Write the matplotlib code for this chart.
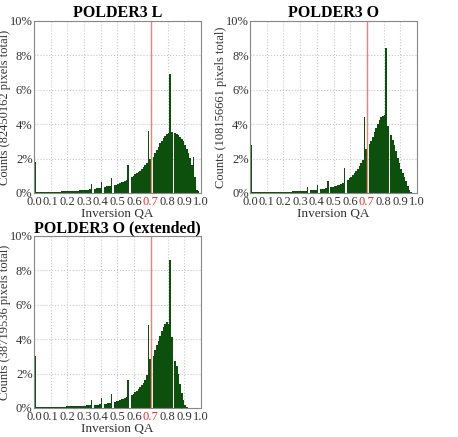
import numpy as np
import matplotlib.pyplot as plt
from matplotlib.ticker import FuncFormatter

plt.rcParams['font.family'] = ['Liberation Serif', 'DejaVu Serif']

# bin left edges, width 0.01
edges = np.arange(100) / 100.0

titles = ['POLDER3 L', 'POLDER3 O', 'POLDER3 O (extended)']
totals = ['82450162', '108156661', '38719536']

# percent of pixels per bin
pct_L = [1.80, 0.05, 0.05, 0.05, 0.05, 0.05, 0.06, 0.06, 0.06, 0.06,
         0.07, 0.07, 0.07, 0.08, 0.08, 0.08, 0.09, 0.09, 0.10, 0.10,
         0.11, 0.11, 0.12, 0.12, 0.13, 0.13, 0.14, 0.15, 0.15, 0.16,
         0.17, 0.18, 0.19, 0.21, 0.50, 0.00, 0.25, 0.27, 0.29, 0.31,
         0.66, 0.00, 0.36, 0.38, 0.40, 0.43, 0.85, 0.00, 0.46, 0.49,
         0.52, 0.56, 0.61, 0.66, 0.71, 0.77, 1.60, 0.00, 0.92, 1.00,
         1.08, 1.15, 1.22, 1.30, 1.40, 1.50, 1.62, 1.75, 3.60, 1.95,
         0.00, 2.10, 2.30, 2.50, 2.70, 2.88, 3.05, 3.20, 3.32, 3.42,
         3.48, 6.90, 3.52, 0.00, 3.50, 3.45, 3.38, 3.28, 3.15, 3.00,
         2.80, 2.55, 2.30, 2.05, 1.60, 2.10, 0.90, 0.20, 0.12, 0.02]

pct_O = [2.80, 0.03, 0.03, 0.03, 0.03, 0.04, 0.04, 0.04, 0.04, 0.04,
         0.05, 0.05, 0.05, 0.05, 0.05, 0.06, 0.06, 0.06, 0.06, 0.07,
         0.07, 0.07, 0.08, 0.08, 0.08, 0.09, 0.09, 0.10, 0.10, 0.11,
         0.11, 0.12, 0.12, 0.13, 0.33, 0.00, 0.15, 0.16, 0.17, 0.18,
         0.47, 0.00, 0.21, 0.23, 0.25, 0.27, 0.70, 0.00, 0.32, 0.35,
         0.38, 0.41, 0.45, 0.49, 0.53, 0.58, 1.48, 0.00, 0.75, 0.85,
         0.95, 1.05, 1.15, 1.27, 1.40, 1.55, 1.72, 1.92, 4.40, 2.55,
         0.00, 2.85, 3.05, 3.27, 3.52, 3.78, 4.02, 4.24, 4.40, 4.50,
         4.52, 8.45, 3.90, 0.00, 3.35, 3.10, 2.80, 2.42, 2.05, 1.72,
         1.42, 1.15, 0.92, 0.68, 0.42, 0.15, 0.03, 0.02, 0.02, 0.02]

pct_Oext = [3.00, 0.04, 0.04, 0.04, 0.04, 0.05, 0.05, 0.05, 0.05, 0.06,
            0.06, 0.06, 0.06, 0.07, 0.07, 0.07, 0.08, 0.08, 0.08, 0.09,
            0.09, 0.10, 0.10, 0.11, 0.11, 0.12, 0.12, 0.13, 0.13, 0.14,
            0.14, 0.15, 0.15, 0.16, 0.45, 0.00, 0.18, 0.19, 0.20, 0.21,
            0.60, 0.00, 0.24, 0.26, 0.28, 0.30, 0.82, 0.00, 0.36, 0.39,
            0.42, 0.46, 0.50, 0.54, 0.58, 0.63, 1.65, 0.00, 0.76, 0.84,
            0.92, 1.01, 1.11, 1.22, 1.35, 1.48, 1.65, 1.90, 4.85, 2.85,
            0.00, 3.05, 3.35, 3.65, 3.92, 4.18, 4.45, 4.70, 4.88, 4.98,
            4.90, 8.60, 4.10, 0.00, 2.75, 2.45, 2.00, 1.40, 0.85, 0.45,
            0.15, 0.04, 0.01, 0.00, 0.00, 0.00, 0.00, 0.00, 0.00, 0.00]

series = [pct_L, pct_O, pct_Oext]
xticks = np.round(np.arange(0, 1.01, 0.1), 1)
yticks = np.arange(0, 11, 2)

fig = plt.figure(figsize=(4.58, 4.37), dpi=100)
boxes = [[0.0742, 0.5584, 0.3646, 0.3936],
         [0.5459, 0.5584, 0.3646, 0.3936],
         [0.0742, 0.0664, 0.3646, 0.3936]]

for box, title, total, vals in zip(boxes, titles, totals, series):
    ax = fig.add_axes(box)
    ax.bar(edges, vals, width=0.01, align='edge', color='#0d500d', linewidth=0)
    ax.axvline(0.7, color='#f08080', lw=1.0)
    ax.set_xlim(0, 1)
    ax.set_ylim(0, 10)
    ax.set_xticks(xticks)
    ax.set_yticks(yticks)
    ax.yaxis.set_major_formatter(FuncFormatter(lambda v, p: '%d%%' % v))
    ax.grid(True, color='#c8c8c8', linestyle=':', linewidth=0.8)
    ax.set_axisbelow(True)
    ax.tick_params(labelsize=9, length=0, colors='#333333')
    ax.tick_params(axis='x', pad=2)
    ax.tick_params(axis='y', pad=1)
    for lab in ax.get_xticklabels():
        if lab.get_text() == '0.7':
            lab.set_color('#e83030')
    for s in ax.spines.values():
        s.set_color('#888888')
        s.set_linewidth(0.8)
    ax.set_title(title, fontsize=11.5, fontweight='bold', pad=2)
    ax.set_xlabel('Inversion QA', fontsize=9.5, labelpad=0, color='#333333')
    ax.set_ylabel('Counts (%s pixels total)' % total, fontsize=9,
                  color='#333333')
    ax.yaxis.set_label_coords(-0.135, 0.5)

fig.savefig('out.png', dpi=100)
